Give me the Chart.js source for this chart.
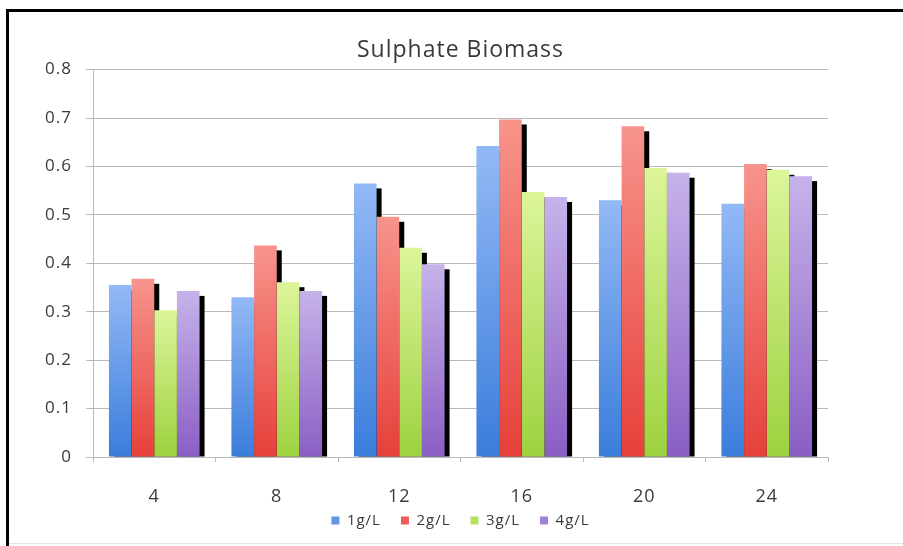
<!DOCTYPE html>
<html>
<head>
<meta charset="utf-8">
<title>Sulphate Biomass</title>
<script src="https://cdn.jsdelivr.net/npm/chart.js@4"></script>
<style>
  html, body { margin: 0; padding: 0; background: #fff; overflow: hidden; }
  .edge { position: absolute; background: #000; }
  #edge-top { left: 6px; top: 9px; width: 897px; height: 3px; }
  #edge-left { left: 6px; top: 9px; width: 3px; height: 540px; }
  #edge-bottom { left: 9px; top: 543px; width: 894px; height: 1px; background: #e2e2e2; }
  #wrap { position: absolute; left: 0; top: 0; width: 903px; height: 546px; }
</style>
</head>
<body>
<div class="edge" id="edge-top"></div>
<div class="edge" id="edge-left"></div>
<div class="edge" id="edge-bottom"></div>
<div id="wrap"><canvas id="biomass-chart"></canvas></div>
<script>
// Data
const categories = ['4', '8', '12', '16', '20', '24'];
const seriesNames = ['1g/L', '2g/L', '3g/L', '4g/L'];
const values1g = [0.355, 0.330, 0.565, 0.642, 0.530, 0.523];
const values2g = [0.368, 0.437, 0.496, 0.697, 0.683, 0.605];
const values3g = [0.303, 0.361, 0.432, 0.547, 0.597, 0.593];
const values4g = [0.343, 0.343, 0.398, 0.537, 0.587, 0.580];
const yTickLabels = ['0', '0.1', '0.2', '0.3', '0.4', '0.5', '0.6', '0.7', '0.8'];

// Colours: light top, saturated bottom, plus a flat legend swatch
const topColors = ['#93b9f5', '#f7948c', '#dcf59a', '#c6b3ea'];
const bottomColors = ['#3a7ddb', '#e6403a', '#9dd23f', '#8a5ec4'];
const swatchColors = ['#5f95e6', '#ec5d56', '#b5e060', '#a080d4'];

const FONT = 'Open Sans';
const TEXT = '#3a3a3a';
const GRID = '#b9b9b9';

// Vertical gradient for one bar, built from the y scale
function barGradient(ctx, i) {
  const chart = ctx.chart;
  if (!chart.chartArea || ctx.type !== 'data') return swatchColors[i];
  const y = chart.scales.y;
  const top = y.getPixelForValue(ctx.raw);
  const base = y.getPixelForValue(0);
  const g = chart.ctx.createLinearGradient(0, top, 0, base);
  g.addColorStop(0, topColors[i]);
  g.addColorStop(1, bottomColors[i]);
  return g;
}

// Black drop shadow behind every bar
const barShadow = {
  id: 'barShadow',
  beforeDatasetsDraw(chart) {
    const c = chart.ctx;
    c.save();
    c.fillStyle = '#000';
    chart.data.datasets.forEach((ds, di) => {
      chart.getDatasetMeta(di).data.forEach(bar => {
        const p = bar.getProps(['x', 'y', 'base', 'width'], true);
        c.fillRect(p.x - p.width / 2 + 5, p.y + 5, p.width, p.base - p.y - 5);
      });
    });
    c.restore();
  }
};

// Slightly wider lettering, like the original
const textSpacing = {
  id: 'textSpacing',
  beforeUpdate(chart) { chart.ctx.letterSpacing = '1px'; },
  beforeDraw(chart) { chart.ctx.letterSpacing = '1px'; }
};

// Legend sits tight under the category labels
const legendNudge = {
  id: 'legendNudge',
  afterInit(chart) {
    const lg = chart.legend;
    const fit = lg.fit.bind(lg);
    lg.fit = () => { fit(); lg.height -= 6; };
  },
  afterLayout(chart) {
    chart.legend.top -= 14;
    chart.legend.bottom -= 14;
  }
};

const seriesValues = [values1g, values2g, values3g, values4g];

const datasets = seriesNames.map((name, i) => ({
  label: name,
  data: seriesValues[i],
  backgroundColor: ctx => barGradient(ctx, i),
  borderWidth: 0,
  barPercentage: 1,
  categoryPercentage: 0.74
}));

// Render chart
new Chart(document.getElementById('biomass-chart'), {
  type: 'bar',
  data: { labels: categories, datasets: datasets },
  plugins: [textSpacing, barShadow, legendNudge],
  options: {
    responsive: true,
    maintainAspectRatio: false,
    animation: false,
    layout: { padding: { left: 0, right: 75, top: 0, bottom: 0 } },
    plugins: {
      title: {
        display: true,
        text: 'Sulphate Biomass',
        fullSize: false,
        color: TEXT,
        font: { family: FONT, size: 23, weight: 'normal' },
        padding: { top: 37, bottom: 5 }
      },
      legend: {
        position: 'bottom',
        fullSize: false,
        labels: {
          color: TEXT,
          font: { family: FONT, size: 15 },
          boxWidth: 8,
          boxHeight: 8,
          padding: 20,
          generateLabels(chart) {
            return Chart.defaults.plugins.legend.labels.generateLabels(chart).map((l, i) => {
              l.fillStyle = swatchColors[i];
              l.strokeStyle = swatchColors[i];
              l.lineWidth = 0;
              return l;
            });
          }
        }
      },
      tooltip: { enabled: false }
    },
    scales: {
      x: {
        afterFit(scale) { scale.height = 50; },
        grid: { drawOnChartArea: false, tickLength: 5, color: GRID },
        border: { color: GRID },
        ticks: { color: TEXT, padding: 24, font: { family: FONT, size: 18 } }
      },
      y: {
        min: 0,
        max: 0.8,
        afterFit(scale) { scale.width = 93; },
        grid: { color: GRID, tickLength: 7 },
        border: { color: GRID },
        ticks: {
          stepSize: 0.1,
          padding: 14,
          color: TEXT,
          font: { family: FONT, size: 17 },
          callback: (v, idx) => yTickLabels[idx]
        }
      }
    }
  }
});
</script>
</body>
</html>
